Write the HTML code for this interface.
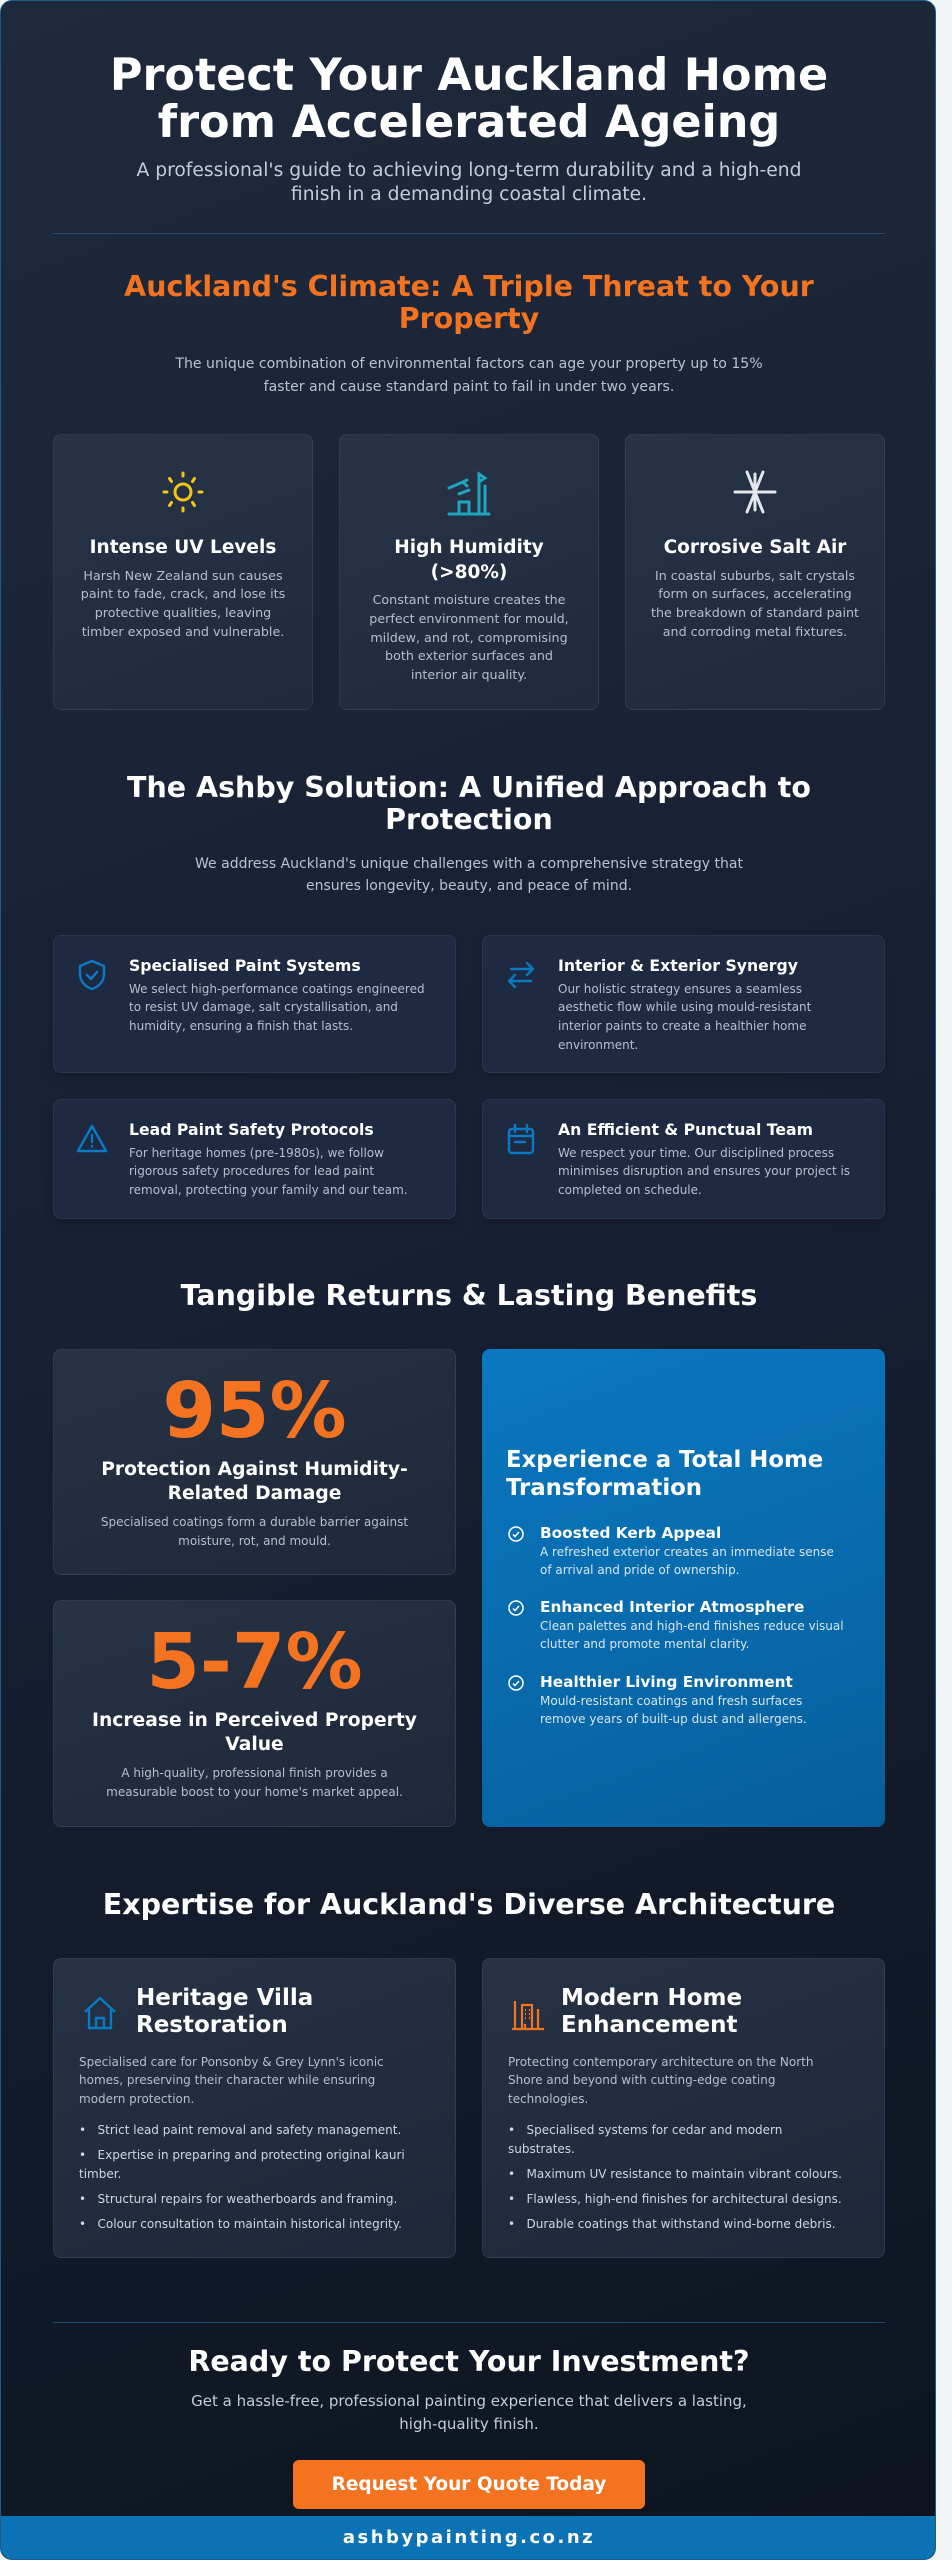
<!DOCTYPE html>
<html><head><meta charset="utf-8">
<style>
*{margin:0;padding:0;box-sizing:border-box}
body{width:952px;height:2560px;background:#f1f3f5;font-family:"DejaVu Sans","Liberation Sans",sans-serif;overflow:hidden;position:relative}
#c{position:absolute;left:0;top:0;width:936px;height:2560px;border-radius:12px;border:1.5px solid #1d5a8a;background:linear-gradient(160deg,#1e293b 0%,#172033 50%,#0d1420 100%);overflow:hidden;color:#fff}
.a{position:absolute}
.ctr{position:absolute;left:0;width:936px;text-align:center;white-space:nowrap}
h1{font-size:44.5px;line-height:47px;font-weight:bold}
.h2{font-size:28.5px;line-height:32px;font-weight:bold}
.sub{color:#c3ccd8}
.div{position:absolute;left:52px;width:832px;height:1px;background:#1e4a70}
.tc{position:absolute;top:433px;width:260px;height:276px;border-radius:8px;background:linear-gradient(160deg,#273347,#1f2a3c);border:1px solid rgba(255,255,255,.07);text-align:center;padding-top:33px}
.tc svg{display:block;margin:0 auto}
.tc .t{font-size:18.5px;font-weight:bold;line-height:24.5px;margin-top:20px}
.tc .d{font-size:12.7px;line-height:18.8px;color:#b5bfcc;margin-top:6px;white-space:nowrap}
.fc{position:absolute;width:403px;border-radius:8px;background:#1e2a42;border:1px solid rgba(255,255,255,.06);box-shadow:0 4px 10px rgba(0,0,0,.2)}
.fc svg{position:absolute;left:22px;top:23px}
.fc .t{position:absolute;left:75px;top:20px;font-size:15.7px;line-height:20px;font-weight:bold;white-space:nowrap}
.fc .d{position:absolute;left:75px;top:43.6px;font-size:12px;line-height:18.7px;color:#b5bfcc;white-space:nowrap}
.sc{position:absolute;left:52px;width:403px;border-radius:8px;background:linear-gradient(160deg,#263245,#1e283a);border:1px solid rgba(255,255,255,.07);text-align:center}
.sc .n{position:absolute;left:0;width:100%;top:22px;font-size:77px;line-height:80px;font-weight:bold;color:#f47321}
.sc .t{position:absolute;left:0;width:100%;top:108px;font-size:18.7px;line-height:24px;font-weight:bold;white-space:nowrap}
.sc .d{position:absolute;left:0;width:100%;top:162.5px;font-size:12px;line-height:19px;color:#b5bfcc;white-space:nowrap}
#blue{position:absolute;left:481px;top:1348px;width:403px;height:478px;border-radius:8px;background:linear-gradient(160deg,#0a78c0,#065f9c)}
.bi{position:absolute;left:58px;white-space:nowrap}
.bi .t{font-size:15.3px;line-height:19px;font-weight:bold}
.bi .d{font-size:12px;line-height:18.5px;color:#d7e6f3}
.chk{position:absolute;left:26px;width:16px;height:16px}
.ac{position:absolute;top:1957px;width:403px;height:300px;border-radius:8px;background:linear-gradient(160deg,#263245,#1d2738);border:1px solid rgba(255,255,255,.07)}
.ac .t{position:absolute;top:25.5px;font-size:23px;line-height:27px;font-weight:bold;white-space:nowrap}
.ac .d{position:absolute;left:25px;top:93.7px;font-size:12px;line-height:18.7px;color:#b5bfcc;white-space:nowrap}
.ac ul{position:absolute;left:25px;top:161.6px;list-style:none;font-size:12px;line-height:19px;color:#cfd6df;white-space:nowrap}
.ac li{margin-bottom:6px}
</style></head><body>
<div id="c">
<h1 class="ctr" style="top:51px">Protect Your Auckland Home<br>from Accelerated Ageing</h1>
<div class="ctr sub" style="top:158px;font-size:18.7px;line-height:24px">A professional's guide to achieving long-term durability and a high-end<br>finish in a demanding coastal climate.</div>
<div class="div" style="top:232px"></div>
<div class="ctr h2" style="top:270px;color:#f47321">Auckland's Climate: A Triple Threat to Your<br>Property</div>
<div class="ctr sub" style="top:352px;font-size:14.1px;line-height:22.5px;color:#b8c2cf">The unique combination of environmental factors can age your property up to 15%<br>faster and cause standard paint to fail in under two years.</div>

<div class="tc" style="left:52px">
<svg width="48" height="48" viewBox="0 0 48 48" fill="none" stroke="#f5c518" stroke-width="3" stroke-linecap="round"><circle cx="24" cy="24" r="8"/><path d="M24 5v3M24 40v3M5 24h3M40 24h3M10.5 10.5l2 3M35.5 10.5l-2 3M10.5 37.5l2-3M35.5 37.5l-2-3"/></svg>
<div class="t">Intense UV Levels</div>
<div class="d">Harsh New Zealand sun causes<br>paint to fade, crack, and lose its<br>protective qualities, leaving<br>timber exposed and vulnerable.</div>
</div>
<div class="tc" style="left:338px">
<svg width="48" height="48" viewBox="0 0 48 48" fill="none" stroke="#1fa5bd" stroke-width="3" stroke-linecap="round"><path d="M4 46h40M14 46V34h10v12M34 46V12M40 46V18M4 20l14-6M14 26l10-4M22 12l-4 2 4 4M34 6v8l6-4z"/></svg>
<div class="t">High Humidity<br>(&gt;80%)</div>
<div class="d">Constant moisture creates the<br>perfect environment for mould,<br>mildew, and rot, compromising<br>both exterior surfaces and<br>interior air quality.</div>
</div>
<div class="tc" style="left:624px">
<svg width="48" height="48" viewBox="0 0 48 48" fill="none" stroke="#e5e7eb" stroke-width="3" stroke-linecap="round"><path d="M4 24h40M16 4l16 40M32 4L16 44M24 6v36"/></svg>
<div class="t">Corrosive Salt Air</div>
<div class="d">In coastal suburbs, salt crystals<br>form on surfaces, accelerating<br>the breakdown of standard paint<br>and corroding metal fixtures.</div>
</div>

<div class="ctr h2" style="top:771px">The Ashby Solution: A Unified Approach to<br>Protection</div>
<div class="ctr sub" style="top:853px;font-size:14px;line-height:21.5px;color:#b8c2cf">We address Auckland's unique challenges with a comprehensive strategy that<br>ensures longevity, beauty, and peace of mind.</div>

<div class="fc" style="left:52px;top:934px;height:138px">
<svg width="32" height="32" viewBox="0 0 32 32" fill="none" stroke="#0b7ac4" stroke-width="2.4" stroke-linecap="round" stroke-linejoin="round"><path d="M16 2l12 5v8c0 8-6 13-12 15C10 28 4 23 4 15V7z"/><path d="M11 16l4 4 6-7"/></svg>
<div class="t">Specialised Paint Systems</div>
<div class="d">We select high-performance coatings engineered<br>to resist UV damage, salt crystallisation, and<br>humidity, ensuring a finish that lasts.</div>
</div>
<div class="fc" style="left:481px;top:934px;height:138px">
<svg width="32" height="32" viewBox="0 0 32 32" fill="none" stroke="#0b7ac4" stroke-width="2.4" stroke-linecap="round" stroke-linejoin="round"><path d="M6 10h22M22 4l6 6-6 6M26 22H4M10 16l-6 6 6 6"/></svg>
<div class="t">Interior &amp; Exterior Synergy</div>
<div class="d">Our holistic strategy ensures a seamless<br>aesthetic flow while using mould-resistant<br>interior paints to create a healthier home<br>environment.</div>
</div>
<div class="fc" style="left:52px;top:1098px;height:120px">
<svg width="32" height="32" viewBox="0 0 32 32" fill="none" stroke="#0b7ac4" stroke-width="2.4" stroke-linecap="round" stroke-linejoin="round"><path d="M16 3L2 28h28z"/><path d="M16 12v7M16 23v.5"/></svg>
<div class="t">Lead Paint Safety Protocols</div>
<div class="d">For heritage homes (pre-1980s), we follow<br>rigorous safety procedures for lead paint<br>removal, protecting your family and our team.</div>
</div>
<div class="fc" style="left:481px;top:1098px;height:120px">
<svg width="32" height="32" viewBox="0 0 32 32" fill="none" stroke="#0b7ac4" stroke-width="2.4" stroke-linecap="round" stroke-linejoin="round"><rect x="4" y="6" width="24" height="24" rx="3"/><path d="M10 2v7M22 2v7M4 13h24M10 19h10"/></svg>
<div class="t">An Efficient &amp; Punctual Team</div>
<div class="d">We respect your time. Our disciplined process<br>minimises disruption and ensures your project is<br>completed on schedule.</div>
</div>

<div class="ctr h2" style="top:1279px">Tangible Returns &amp; Lasting Benefits</div>

<div class="sc" style="top:1348px;height:226px">
<div class="n">95%</div>
<div class="t">Protection Against Humidity-<br>Related Damage</div>
<div class="d">Specialised coatings form a durable barrier against<br>moisture, rot, and mould.</div>
</div>
<div class="sc" style="top:1599px;height:227px">
<div class="n">5-7%</div>
<div class="t">Increase in Perceived Property<br>Value</div>
<div class="d">A high-quality, professional finish provides a<br>measurable boost to your home's market appeal.</div>
</div>
<div id="blue">
<div class="a" style="left:24px;top:97px;font-size:22.8px;line-height:28px;font-weight:bold;white-space:nowrap">Experience a Total Home<br>Transformation</div>
<svg class="chk" style="top:177px" viewBox="0 0 16 16" fill="none" stroke="#fff" stroke-width="1.5"><circle cx="8" cy="8" r="7"/><path d="M5 8.5l2 2 4-4.5"/></svg>
<div class="bi" style="top:174.5px"><div class="t">Boosted Kerb Appeal</div><div class="d">A refreshed exterior creates an immediate sense<br>of arrival and pride of ownership.</div></div>
<svg class="chk" style="top:251px" viewBox="0 0 16 16" fill="none" stroke="#fff" stroke-width="1.5"><circle cx="8" cy="8" r="7"/><path d="M5 8.5l2 2 4-4.5"/></svg>
<div class="bi" style="top:248.5px"><div class="t">Enhanced Interior Atmosphere</div><div class="d">Clean palettes and high-end finishes reduce visual<br>clutter and promote mental clarity.</div></div>
<svg class="chk" style="top:326px" viewBox="0 0 16 16" fill="none" stroke="#fff" stroke-width="1.5"><circle cx="8" cy="8" r="7"/><path d="M5 8.5l2 2 4-4.5"/></svg>
<div class="bi" style="top:323.5px"><div class="t">Healthier Living Environment</div><div class="d">Mould-resistant coatings and fresh surfaces<br>remove years of built-up dust and allergens.</div></div>
</div>

<div class="ctr h2" style="top:1888px">Expertise for Auckland's Diverse Architecture</div>

<div class="ac" style="left:52px">
<svg class="a" style="left:28px;top:36px" width="36" height="36" viewBox="0 0 36 36" fill="none" stroke="#0b7ac4" stroke-width="2.4" stroke-linejoin="round"><path d="M3 17L18 3l15 14M7 14v19h22V14M14 33v-10h8v10"/></svg>
<div class="t" style="left:82px">Heritage Villa<br>Restoration</div>
<div class="d">Specialised care for Ponsonby &amp; Grey Lynn's iconic<br>homes, preserving their character while ensuring<br>modern protection.</div>
<ul><li>•&nbsp;&nbsp;&nbsp;Strict lead paint removal and safety management.</li><li>•&nbsp;&nbsp;&nbsp;Expertise in preparing and protecting original kauri<br>timber.</li><li>•&nbsp;&nbsp;&nbsp;Structural repairs for weatherboards and framing.</li><li>•&nbsp;&nbsp;&nbsp;Colour consultation to maintain historical integrity.</li></ul>
</div>
<div class="ac" style="left:481px">
<svg class="a" style="left:27px;top:36px" width="36" height="36" viewBox="0 0 36 36" fill="none" stroke="#f47321" stroke-width="2.2"><path d="M2 34h32M5 34V6M12 34V10h10v24M28 34V14M15 15h1M19 15h1M15 19h1M19 19h1M15 23h1M19 23h1M15 29v5h4"/></svg>
<div class="t" style="left:78px">Modern Home<br>Enhancement</div>
<div class="d">Protecting contemporary architecture on the North<br>Shore and beyond with cutting-edge coating<br>technologies.</div>
<ul><li>•&nbsp;&nbsp;&nbsp;Specialised systems for cedar and modern<br>substrates.</li><li>•&nbsp;&nbsp;&nbsp;Maximum UV resistance to maintain vibrant colours.</li><li>•&nbsp;&nbsp;&nbsp;Flawless, high-end finishes for architectural designs.</li><li>•&nbsp;&nbsp;&nbsp;Durable coatings that withstand wind-borne debris.</li></ul>
</div>

<div class="div" style="top:2321px"></div>
<div class="ctr h2" style="top:2345px">Ready to Protect Your Investment?</div>
<div class="ctr sub" style="top:2388.5px;font-size:15px;line-height:23px">Get a hassle-free, professional painting experience that delivers a lasting,<br>high-quality finish.</div>
<div class="a" style="left:292px;top:2459px;width:352px;height:49px;border-radius:6px;background:#f47321;text-align:center;font-size:18.5px;line-height:49px;font-weight:bold">Request Your Quote Today</div>
<div class="a" style="left:0;top:2515px;width:936px;height:45px;background:#0b72b5;text-align:center;font-size:18px;line-height:43px;font-weight:bold;letter-spacing:2.5px">ashbypainting.co.nz</div>
</div>
</body></html>
